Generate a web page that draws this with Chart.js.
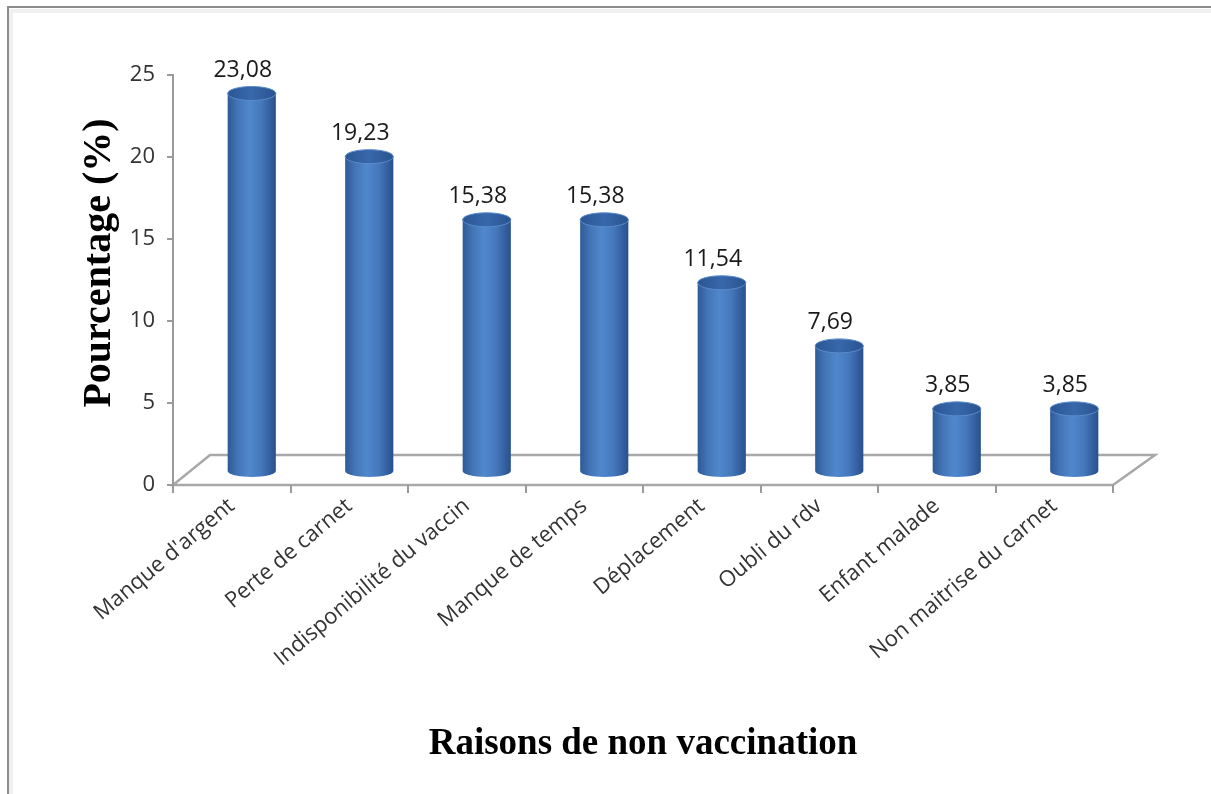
<!DOCTYPE html>
<html>
<head>
<meta charset="utf-8">
<script src="https://cdn.jsdelivr.net/npm/chart.js@4.4.0/dist/chart.umd.min.js"></script>
<style>
  html, body { margin: 0; padding: 0; background: #fff; }
  #wrap { width: 1211px; height: 794px; }
</style>
</head>
<body>
<div id="wrap"><canvas id="raisonsChart" width="1211" height="794"></canvas></div>
<script>
const raisons = [
    "Manque d'argent",
    'Perte de carnet',
    'Indisponibilité du vaccin',
    'Manque de temps',
    'Déplacement',
    'Oubli du rdv',
    'Enfant malade',
    'Non maitrise du carnet'
];
const pourcentages = [23.08, 19.23, 15.38, 15.38, 11.54, 7.69, 3.85, 3.85];
const yTicks = [0, 5, 10, 15, 20, 25];
const yTitre = 'Pourcentage (%)';
const xTitre = 'Raisons de non vaccination';

// 3D offsets (bars sit half-way into the floor)
const BAR_DX = 20, BAR_DY = -13;
const FLOOR_DX = 37, FLOOR_DY = -30;
const TEXT_FONT = '"Open Sans", Lato, sans-serif';
const TITLE_FONT = '"Liberation Serif", "Times New Roman", serif';

function barGradient(context) {
    const chart = context.chart;
    const xs = chart.scales.x;
    if (!xs || context.dataIndex === undefined) return '#4a7ec0';
    const cx = xs.getPixelForValue(context.dataIndex);
    const half = (xs.width / raisons.length) * 0.41 / 2;
    if (!isFinite(cx) || !isFinite(half) || half <= 0) return '#4a7ec0';
    const g = chart.ctx.createLinearGradient(cx - half, 0, cx + half, 0);
    g.addColorStop(0, '#2e5a97');
    g.addColorStop(0.2, '#4374b6');
    g.addColorStop(0.45, '#5088cd');
    g.addColorStop(0.7, '#4577bb');
    g.addColorStop(1, '#28508d');
    return g;
}

const cylinderPlugin = {
    id: 'cylinders',
    beforeDraw(chart) {
        const ctx = chart.ctx;
        const area = chart.chartArea;
        ctx.save();
        // outer frame (top and left edges)
        ctx.strokeStyle = '#8c8c8c';
        ctx.lineWidth = 2;
        ctx.beginPath();
        ctx.moveTo(8, 794);
        ctx.lineTo(8, 7);
        ctx.lineTo(1211, 7);
        ctx.stroke();
        ctx.strokeStyle = 'rgba(0,0,0,0.06)';
        ctx.lineWidth = 4;
        ctx.beginPath();
        ctx.moveTo(11, 794);
        ctx.lineTo(11, 11);
        ctx.lineTo(1211, 11);
        ctx.stroke();

        // floor
        const y0 = area.bottom;
        ctx.strokeStyle = '#a8a8a8';
        ctx.lineWidth = 2.5;
        ctx.beginPath();
        ctx.moveTo(area.left, y0);
        ctx.lineTo(area.right, y0);
        ctx.lineTo(area.right + FLOOR_DX + 5, y0 + FLOOR_DY);
        ctx.lineTo(area.left + FLOOR_DX, y0 + FLOOR_DY);
        ctx.closePath();
        ctx.stroke();
        ctx.restore();
    },
    beforeDatasetsDraw(chart) {
        const ctx = chart.ctx;
        ctx.save();
        ctx.translate(BAR_DX, BAR_DY);
        // rounded bottoms of the cylinders
        chart.getDatasetMeta(0).data.forEach((bar, i) => {
            const w = bar.width / 2;
            ctx.save();
            ctx.fillStyle = barGradient({ chart, dataIndex: i });
            ctx.beginPath();
            ctx.ellipse(bar.x, bar.base, w, 6, 0, 0, Math.PI);
            ctx.fill();
            ctx.restore();
        });
    },
    afterDatasetsDraw(chart) {
        const ctx = chart.ctx;
        const meta = chart.getDatasetMeta(0);
        meta.data.forEach((bar) => {
            const w = bar.width / 2;
            const g = ctx.createLinearGradient(bar.x - w, 0, bar.x + w, 0);
            g.addColorStop(0, '#2b5694');
            g.addColorStop(0.5, '#3868ab');
            g.addColorStop(1, '#2a5390');
            ctx.fillStyle = g;
            ctx.strokeStyle = '#5a8bcc';
            ctx.lineWidth = 1;
            ctx.beginPath();
            ctx.ellipse(bar.x, bar.y, w, 7, 0, 0, Math.PI * 2);
            ctx.fill();
            ctx.stroke();
        });
        ctx.restore();

        // value labels
        ctx.save();
        ctx.font = '23px ' + TEXT_FONT;
        ctx.fillStyle = '#1a1a1a';
        ctx.textAlign = 'center';
        ctx.textBaseline = 'middle';
        meta.data.forEach((bar, i) => {
            const txt = pourcentages[i].toFixed(2).replace('.', ',');
            ctx.fillText(txt, bar.x + BAR_DX - 9, bar.y + BAR_DY - 23);
        });
        ctx.restore();
    },
    afterDraw(chart) {
        // y axis title, placed like the original
        const ctx = chart.ctx;
        ctx.save();
        ctx.font = 'bold 40px ' + TITLE_FONT;
        ctx.fillStyle = '#000';
        ctx.textAlign = 'center';
        ctx.textBaseline = 'middle';
        ctx.translate(100, 263);
        ctx.rotate(-Math.PI / 2);
        ctx.fillText(yTitre, 0, 0);
        ctx.restore();
    }
};

const ctx = document.getElementById('raisonsChart').getContext('2d');
const raisonsChart = new Chart(ctx, {
    type: 'bar',
    data: {
        labels: raisons,
        datasets: [{
            label: yTitre,
            data: pourcentages,
            backgroundColor: barGradient,
            borderWidth: 0,
            barPercentage: 0.41,
            categoryPercentage: 1
        }]
    },
    options: {
        responsive: false,
        animation: false,
        events: [],
        layout: {
            padding: { left: 20, right: 98, top: 75, bottom: 20 }
        },
        plugins: {
            legend: { display: false },
            tooltip: { enabled: false }
        },
        scales: {
            x: {
                afterFit(scale) { scale.height = 794 - 20 - 485; },
                border: { display: false },
                grid: {
                    display: true,
                    drawOnChartArea: false,
                    offset: true,
                    tickLength: 8,
                    color: '#9a9a9a',
                    lineWidth: 2
                },
                ticks: {
                    autoSkip: false,
                    maxRotation: 40,
                    minRotation: 40,
                    color: '#333',
                    padding: 0,
                    font: { family: TEXT_FONT, size: 22 }
                },
                title: {
                    display: true,
                    text: xTitre,
                    color: '#000',
                    font: { family: TITLE_FONT, size: 37, weight: 'bold' },
                    padding: { top: 0, bottom: 7 }
                }
            },
            y: {
                min: 0,
                max: 25,
                afterFit(scale) { scale.width = 173 - 20; },
                afterBuildTicks(scale) { scale.ticks = yTicks.map(v => ({ value: v })); },
                border: { display: true, color: '#9a9a9a', width: 2 },
                grid: {
                    display: true,
                    drawOnChartArea: false,
                    tickLength: 6,
                    color: '#9a9a9a',
                    lineWidth: 2
                },
                ticks: {
                    color: '#333',
                    padding: 12,
                    font: { family: TEXT_FONT, size: 22 }
                },
                title: { display: false }
            }
        }
    },
    plugins: [cylinderPlugin]
});
</script>
</body>
</html>
